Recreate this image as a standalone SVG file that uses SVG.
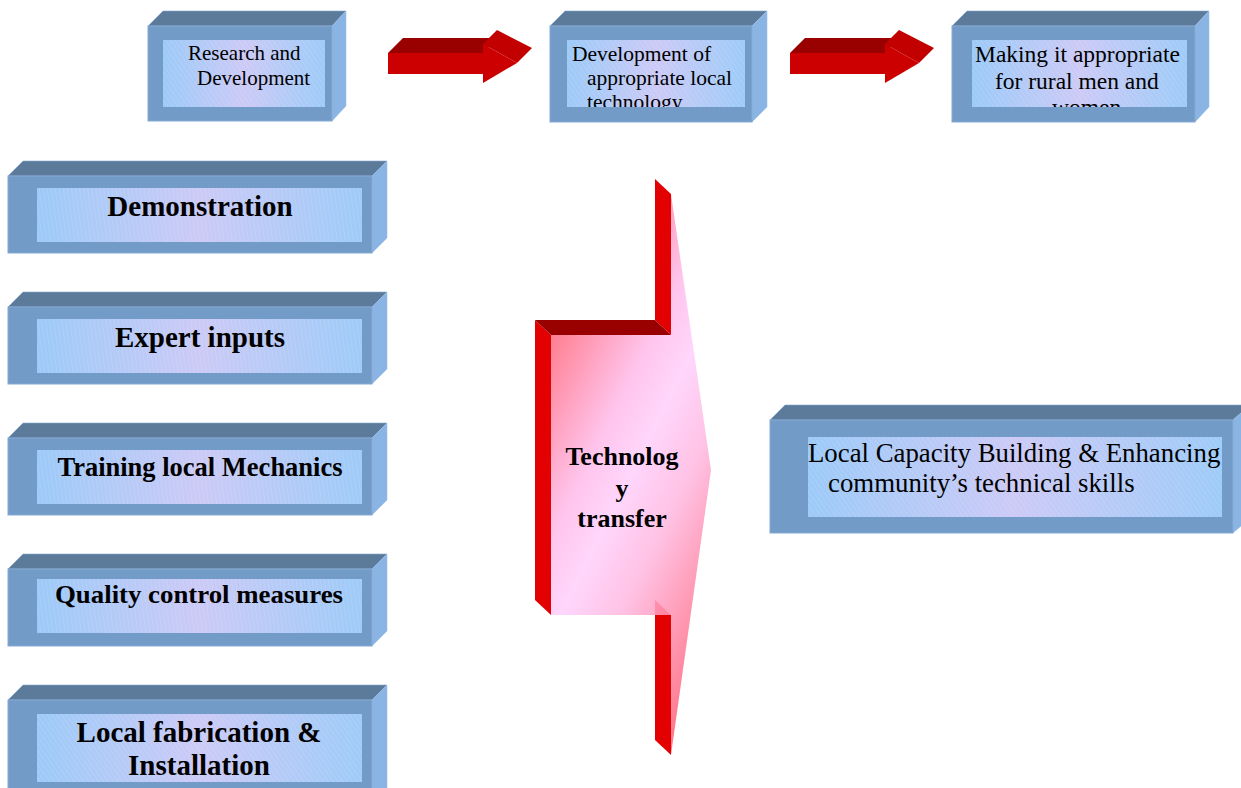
<svg xmlns="http://www.w3.org/2000/svg" width="1241" height="788" viewBox="0 0 1241 788">
<style>
.front{fill:#729bc7;stroke:#86aad3;stroke-width:1}
.top{fill:#5c7b9b;stroke:#86aad3;stroke-width:0.6}
.side{fill:#8ab4e3;stroke:#9cc0ea;stroke-width:0.6}
.panel{fill:url(#panelGrad)}
.hatchD{fill:url(#hatchD)}
.hatchV{fill:url(#hatchV)}
.reg{font-family:"Liberation Serif","Times New Roman",serif;fill:#000}
.bold{font-family:"Liberation Serif","Times New Roman",serif;font-weight:bold;fill:#000}
.aFront{fill:#cc0000}
.aTop{fill:#990000}
.aHead{fill:#c20000}
.rSide{fill:#e20000}
</style>
<defs>
<linearGradient id="panelGrad" x1="0" y1="0" x2="1" y2="0">
<stop offset="0" stop-color="#9ccaf8"/>
<stop offset="0.5" stop-color="#cccaf6"/>
<stop offset="1" stop-color="#9ecbf8"/>
</linearGradient>
<pattern id="hatchD" width="4" height="4" patternUnits="userSpaceOnUse" patternTransform="rotate(-35)">
<line x1="0" y1="0" x2="0" y2="4" stroke="#ffffff" stroke-opacity="0.22" stroke-width="1"/>
</pattern>
<pattern id="hatchV" width="4" height="4" patternUnits="userSpaceOnUse" patternTransform="rotate(-8)">
<line x1="0" y1="0" x2="0" y2="4" stroke="#ffffff" stroke-opacity="0.2" stroke-width="1"/>
</pattern>
<linearGradient id="pinkGrad" gradientUnits="userSpaceOnUse" x1="540" y1="340" x2="804" y2="472">
<stop offset="0" stop-color="#ff7888"/>
<stop offset="0.33" stop-color="#ffc4ec"/>
<stop offset="0.48" stop-color="#ffd6fc"/>
<stop offset="0.66" stop-color="#ffc2e4"/>
<stop offset="1" stop-color="#ff7a8e"/>
</linearGradient>
<clipPath id="clipDev"><rect x="567" y="40" width="178" height="67"/></clipPath>
<clipPath id="clipMak"><rect x="972" y="40" width="215" height="67"/></clipPath>
</defs>
<rect width="1241" height="788" fill="#ffffff"/>

<g id="connectors">
<g id="arrow1">
<polygon class="aTop" points="388,53 403,38 498,38 483,53"/>
<rect class="aFront" x="388" y="53" width="96" height="21"/>
<polygon class="aHead" points="483,44 497,30 532,48 517,63"/>
<polygon class="aFront" points="483,44 517,63 483,83"/>
</g>
<g id="arrow2">
<polygon class="aTop" points="790,53 805,38 900,38 885,53"/>
<rect class="aFront" x="790" y="53" width="96" height="21"/>
<polygon class="aHead" points="885,44 899,30 934,48 919,63"/>
<polygon class="aFront" points="885,44 919,63 885,83"/>
</g>
</g>

<g id="node-research">
<polygon class="top" points="148,26 163,11 346,11 332,26"/>
<polygon class="side" points="332,26 346,11 346,106 332,121"/>
<rect class="front" x="148" y="26" width="184" height="95"/>
<rect class="panel" x="163" y="40" width="162" height="67"/>
<rect class="hatchD" x="163" y="40" width="162" height="67"/>
<text class="reg" font-size="21" x="188" y="60">Research and</text>
<text class="reg" font-size="21" x="197" y="85">Development</text>
</g>

<g id="node-development">
<polygon class="top" points="550,26 565,11 767,11 752,26"/>
<polygon class="side" points="752,26 767,11 767,107 752,122"/>
<rect class="front" x="550" y="26" width="202" height="96"/>
<rect class="panel" x="567" y="40" width="178" height="67"/>
<rect class="hatchD" x="567" y="40" width="178" height="67"/>
<g clip-path="url(#clipDev)">
<text class="reg" font-size="21.5" x="572" y="61">Development of</text>
<text class="reg" font-size="21.5" x="587" y="85">appropriate local</text>
<text class="reg" font-size="21.5" x="587" y="109">technology</text>
</g>
</g>

<g id="node-making">
<polygon class="top" points="952,26 967,11 1209,11 1195,26"/>
<polygon class="side" points="1195,26 1209,11 1209,107 1195,122"/>
<rect class="front" x="952" y="26" width="243" height="96"/>
<rect class="panel" x="972" y="40" width="215" height="67"/>
<rect class="hatchD" x="972" y="40" width="215" height="67"/>
<g clip-path="url(#clipMak)">
<text class="reg" font-size="23.5" x="975" y="62">Making it appropriate</text>
<text class="reg" font-size="23.5" x="995" y="89">for rural men and</text>
<text class="reg" font-size="23.5" x="1052" y="115">women</text>
</g>
</g>

<g id="node-demonstration">
<polygon class="top" points="8,176 23,161 387,161 372,176"/>
<polygon class="side" points="372,176 387,161 387,238 372,253"/>
<rect class="front" x="8" y="176" width="364" height="77"/>
<rect class="panel" x="37" y="188" width="325" height="54"/>
<rect class="hatchV" x="37" y="188" width="325" height="54"/>
<text class="bold" font-size="29" x="200" y="216" text-anchor="middle">Demonstration</text>
</g>

<g id="node-expert">
<polygon class="top" points="8,307 23,292 387,292 372,307"/>
<polygon class="side" points="372,307 387,292 387,369 372,384"/>
<rect class="front" x="8" y="307" width="364" height="77"/>
<rect class="panel" x="37" y="319" width="325" height="54"/>
<rect class="hatchV" x="37" y="319" width="325" height="54"/>
<text class="bold" font-size="29" x="200" y="347" text-anchor="middle">Expert inputs</text>
</g>

<g id="node-training">
<polygon class="top" points="8,438 23,423 387,423 372,438"/>
<polygon class="side" points="372,438 387,423 387,500 372,515"/>
<rect class="front" x="8" y="438" width="364" height="77"/>
<rect class="panel" x="37" y="450" width="325" height="54"/>
<rect class="hatchV" x="37" y="450" width="325" height="54"/>
<text class="bold" font-size="26.5" x="200" y="476" text-anchor="middle">Training local Mechanics</text>
</g>

<g id="node-quality">
<polygon class="top" points="8,569 23,554 387,554 372,569"/>
<polygon class="side" points="372,569 387,554 387,631 372,646"/>
<rect class="front" x="8" y="569" width="364" height="77"/>
<rect class="panel" x="37" y="579" width="325" height="54"/>
<rect class="hatchV" x="37" y="579" width="325" height="54"/>
<text class="bold" font-size="26" x="55" y="603" textLength="288" lengthAdjust="spacingAndGlyphs">Quality control measures</text>
</g>

<g id="node-fabrication">
<polygon class="top" points="8,700 23,685 387,685 372,700"/>
<polygon class="side" points="372,700 387,685 387,790 372,800"/>
<rect class="front" x="8" y="700" width="364" height="100"/>
<rect class="panel" x="37" y="714" width="325" height="68"/>
<rect class="hatchD" x="37" y="714" width="325" height="68"/>
<text class="bold" font-size="29" x="199" y="742" text-anchor="middle">Local fabrication &amp;</text>
<text class="bold" font-size="29" x="199" y="775" text-anchor="middle">Installation</text>
</g>

<g id="node-transfer">
<polygon class="rSide" points="655,179 671,194 671,335 655,320"/>
<polygon class="rSide" points="655,600 671,615 671,755 655,740"/>
<polygon class="rSide" points="535,320 551,335 551,615 535,600"/>
<polygon class="aTop" points="535,320 655,320 671,335 551,335"/>
<polygon fill="url(#pinkGrad)" points="551,335 671,335 671,194 711,470 671,755 671,615 551,615"/>
<polygon fill="#ff5070" fill-opacity="0.35" points="655,600 671,615 655,615"/>
<text class="bold" font-size="26" x="622" y="465" text-anchor="middle">Technolog</text>
<text class="bold" font-size="26" x="622" y="497" text-anchor="middle">y</text>
<text class="bold" font-size="26" x="622" y="527" text-anchor="middle">transfer</text>
</g>

<g id="node-capacity">
<polygon class="top" points="770,420 785,405 1250,405 1233,420"/>
<polygon class="side" points="1233,420 1250,405 1250,518 1233,533"/>
<rect class="front" x="770" y="420" width="463" height="113"/>
<rect class="panel" x="808" y="437" width="414" height="80"/>
<rect class="hatchD" x="808" y="437" width="414" height="80"/>
<text class="reg" font-size="26.8" x="808" y="462">Local Capacity Building &amp; Enhancing</text>
<text class="reg" font-size="26.8" x="828" y="492">community’s technical skills</text>
</g>
</svg>
